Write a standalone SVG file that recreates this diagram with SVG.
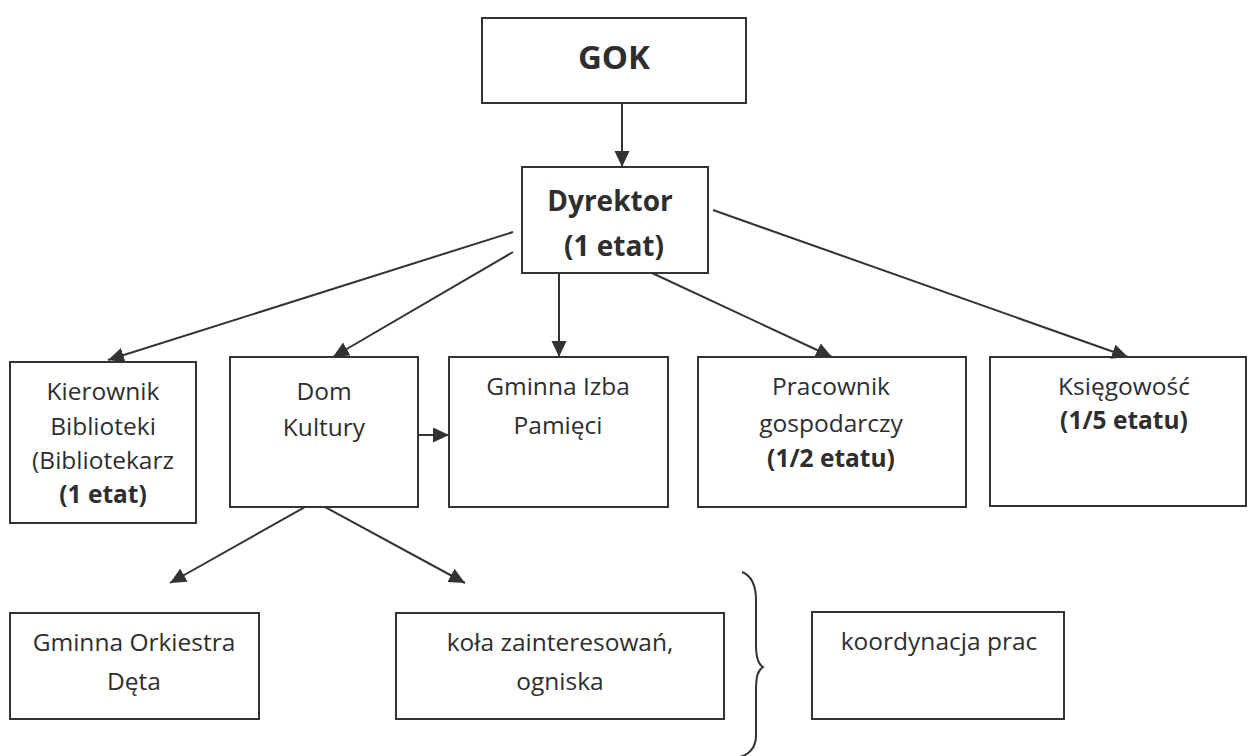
<svg xmlns="http://www.w3.org/2000/svg" width="1248" height="756" viewBox="0 0 1248 756">
  <defs>
    <marker id="arr" markerUnits="userSpaceOnUse" markerWidth="18" markerHeight="16" refX="16" refY="7.5" orient="auto">
      <path d="M0,0 L16,7.5 L0,15 z" fill="#333"/>
    </marker>
    <style>
      .box { fill: #fff; stroke: #333; stroke-width: 2; }
      .t { font-family: "Open Sans", "Liberation Sans", sans-serif; font-size: 24.5px; fill: #2e2e2e; text-anchor: middle; }
      .b { font-weight: bold; }
      .c { fill: none; stroke: #333; stroke-width: 2; marker-end: url(#arr); }
    </style>
  </defs>
  <rect width="1248" height="756" fill="#fff"/>

  <g id="gok">
    <rect class="box" x="482" y="18" width="264" height="85"/>
    <text class="t b" x="614" y="69" style="font-size:33px">GOK</text>
  </g>
  <g id="dyrektor">
    <rect class="box" x="522" y="167" width="186" height="106"/>
    <text class="t b" x="610" y="211" style="font-size:28px">Dyrektor</text>
    <text class="t b" x="614" y="256" style="font-size:28px">(1 etat)</text>
  </g>
  <g id="kierownik">
    <rect class="box" x="10" y="362" width="186" height="161"/>
    <text class="t" x="103" y="400">Kierownik</text>
    <text class="t" x="103" y="435">Biblioteki</text>
    <text class="t" x="103" y="469">(Bibliotekarz</text>
    <text class="t b" x="103" y="503">(1 etat)</text>
  </g>
  <g id="dom-kultury">
    <rect class="box" x="230" y="357" width="188" height="150"/>
    <text class="t" x="324" y="400">Dom</text>
    <text class="t" x="324" y="436">Kultury</text>
  </g>
  <g id="izba">
    <rect class="box" x="449" y="357" width="219" height="150"/>
    <text class="t" x="558" y="395">Gminna Izba</text>
    <text class="t" x="558" y="434">Pamięci</text>
  </g>
  <g id="pracownik">
    <rect class="box" x="698" y="357" width="268" height="150"/>
    <text class="t" x="831" y="395">Pracownik</text>
    <text class="t" x="831" y="432">gospodarczy</text>
    <text class="t b" x="831" y="467">(1/2 etatu)</text>
  </g>
  <g id="ksiegowosc">
    <rect class="box" x="990" y="357" width="256" height="149"/>
    <text class="t" x="1124" y="395">Księgowość</text>
    <text class="t b" x="1124" y="429">(1/5 etatu)</text>
  </g>
  <g id="orkiestra">
    <rect class="box" x="10" y="613" width="249" height="106"/>
    <text class="t" x="134" y="651">Gminna Orkiestra</text>
    <text class="t" x="134" y="690">Dęta</text>
  </g>
  <g id="kola">
    <rect class="box" x="396" y="613" width="328" height="106"/>
    <text class="t" x="560" y="651">koła zainteresowań,</text>
    <text class="t" x="560" y="690">ogniska</text>
  </g>
  <g id="koordynacja">
    <rect class="box" x="812" y="612" width="252" height="107"/>
    <text class="t" x="939" y="650">koordynacja prac</text>
  </g>
  <g id="brace">
    <path d="M742,572 C752,576 756,586 756,600 L756,645 C756,658 758,664 763,667 C758,670 756,676 756,690 L756,735 C756,748 750,754 740,757" fill="none" stroke="#333" stroke-width="2"/>
  </g>

  <g id="connectors">
    <line class="c" x1="622" y1="103" x2="622" y2="167"/>
    <line class="c" x1="513" y1="232" x2="108" y2="360"/>
    <line class="c" x1="513" y1="252" x2="333" y2="357"/>
    <line class="c" x1="559" y1="273" x2="559" y2="357"/>
    <line class="c" x1="652" y1="273" x2="832" y2="357"/>
    <line class="c" x1="713" y1="210" x2="1128" y2="357"/>
    <line class="c" x1="418" y1="435" x2="449" y2="435"/>
    <line class="c" x1="305" y1="507" x2="170" y2="583"/>
    <line class="c" x1="325" y1="507" x2="465" y2="583"/>
  </g>
</svg>
